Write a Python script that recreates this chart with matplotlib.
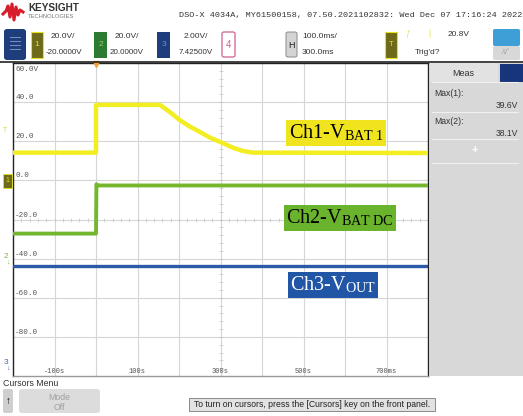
import numpy as np
import matplotlib
matplotlib.use("Agg")
import matplotlib.pyplot as plt
from matplotlib.patches import Rectangle, FancyBboxPatch
from matplotlib.lines import Line2D

plt.rcParams["mathtext.fontset"] = "stix"

W, H = 523, 416

# channel settings (V/div, offset V); screen y axis uses ch1 units
ch_scale = {1: 20.0, 2: 20.0, 3: 2.0}
ch_offset = {1: -20.0, 2: 20.0, 3: 7.425}

# ch1 - VBAT1 (ms, V)
ch1_t = [-200, 0, 0, 154, 178, 202, 226, 251, 275, 303, 330, 354, 378, 800]
ch1_v = [14.2, 14.2, 38.6, 38.6, 34.9, 30.8, 27.5, 24.7, 21.8, 19.3, 16.7, 15.0, 14.2, 14.0]
# ch2 - VBAT DC
ch2_t = [-200, 0, 1, 3, 800]
ch2_v = [12.8, 12.8, 38.0, 37.4, 37.4]
# ch3 - VOUT
ch3_t = [-200, 800]
ch3_v = [5.05, 5.05]

y_ticks = [60, 40, 20, 0, -20, -40, -60, -80]
y_labels = ["60.0V", "40.0", "20.0", "0.0", "-20.0", "-40.0", "-60.0", "-80.0"]
x_ticks = [-100, 100, 300, 500, 700]
x_labels = ["-100s", "100s", "300s", "500s", "700ms"]

meas_names = ["Max(1):", "Max(2):"]
meas_vals = ["39.6V", "38.1V"]


def to_screen(v, ch):
    # convert channel volts to ch1 screen units (center = -20, 20 per div)
    return [(x - ch_offset[ch]) / ch_scale[ch] * 20.0 - 20.0 for x in v]


def fx(x):
    return x / W


def fy(y):
    return 1 - y / H


def box(x0, y0, x1, y1, fc, ec="none", lw=0.8, r=0.0, z=2):
    if r > 0:
        p = FancyBboxPatch((fx(x0), fy(y1)), fx(x1) - fx(x0), fy(y0) - fy(y1),
                           boxstyle=f"round,pad=0,rounding_size={r}",
                           transform=fig.transFigure, fc=fc, ec=ec, lw=lw, zorder=z)
    else:
        p = Rectangle((fx(x0), fy(y1)), fx(x1) - fx(x0), fy(y0) - fy(y1),
                      transform=fig.transFigure, fc=fc, ec=ec, lw=lw, zorder=z)
    fig.add_artist(p)


def ftext(x, y, s, **kw):
    kw.setdefault("fontsize", 6.0)
    kw.setdefault("family", "Liberation Sans")
    kw.setdefault("color", "#333333")
    kw.setdefault("va", "center")
    fig.text(fx(x), fy(y), s, **kw)


fig = plt.figure(figsize=(W / 100, H / 100), dpi=100, facecolor="white")

# ---- header ----
logo_x = [3, 6, 8, 10, 12, 14, 16, 18, 20, 23]
logo_y = [14, 11, 6, 17, 4, 20, 7, 15, 10, 12]
fig.add_artist(Line2D([fx(x) for x in logo_x], [fy(y) for y in logo_y],
                      transform=fig.transFigure, color="#d81e2c", lw=2.2))
ftext(28, 8, "KEYSIGHT", fontsize=7.2, color="#333333", weight="bold")
ftext(28, 17, "TECHNOLOGIES", fontsize=4.2, color="#777777")
ftext(522, 16, "DSO-X 4034A, MY61500158, 07.50.2021102832: Wed Dec 07 17:16:24 2022",
      fontsize=6.1, family="Liberation Mono", ha="right", color="#333333")

# channel bar
box(4, 29, 26, 60, "#1d3d7c", r=0.006)
for yy in [37, 41, 45, 49]:
    fig.add_artist(Line2D([fx(10), fx(20)], [fy(yy), fy(yy)], transform=fig.transFigure,
                          color="#8aa0c8", lw=0.6))

box(31, 32, 43, 58, "#6e6a1c", ec="#e8e020", lw=0.8)
ftext(37, 45, "1", color="#e8e020", ha="center", fontsize=6)
ftext(63, 37, "20.0V/", ha="center")
ftext(64, 52, "-20.0000V", ha="center", fontsize=5.8)

box(94, 32, 107, 58, "#2d7a33")
ftext(100.5, 45, "2", color="#9ad26a", ha="center", fontsize=6)
ftext(127, 37, "20.0V/", ha="center")
ftext(127, 52, "20.0000V", ha="center", fontsize=5.8)

box(157, 32, 170, 58, "#1d3d7c")
ftext(163.5, 45, "3", color="#6f8fd0", ha="center", fontsize=6)
ftext(196, 37, "2.00V/", ha="center")
ftext(196, 52, "7.42500V", ha="center", fontsize=5.8)

box(222, 32, 235, 57, "white", ec="#d06090", lw=0.9, r=0.004)
ftext(228.5, 45, "4", color="#d06090", ha="center", fontsize=7)

box(286, 32, 297, 57, "#d4d4d4", ec="#8a8a8a", lw=0.7, r=0.004)
ftext(291.5, 45, "H", ha="center", fontsize=6.5, color="#222222")
ftext(302, 36, "100.0ms/")
ftext(302, 52, "300.0ms")

box(385, 32, 397, 58, "#6e6a1c", ec="#e8e020", lw=0.8)
ftext(391, 45, "T", color="#e8e020", ha="center", fontsize=5.5)
ftext(408, 34, "ƒ", color="#ece86a", ha="center", fontsize=6.5)
ftext(429, 34, "|", color="#ece86a", ha="center", fontsize=6.5)
ftext(448, 34, "20.8V")
ftext(428, 52, "Trig'd?", ha="center")

box(493, 29, 520, 46, "#3d9fd6", r=0.004)
box(493, 46, 520, 60, "#d8d8d8", r=0.004)
ftext(506, 52, "⁄\\/˚", ha="center", fontsize=5, color="#999999")

fig.add_artist(Line2D([0, 1], [fy(62), fy(62)], transform=fig.transFigure,
                      color="#222222", lw=1.2))

# ---- scope grid ----
ax = fig.add_axes([fx(13), fy(376), fx(428) - fx(13), fy(63) - fy(376)])
ax.set_xlim(-200, 800)
ax.set_ylim(-100, 60)
ax.set_xticks([])
ax.set_yticks([])
for s in ax.spines.values():
    s.set_color("#222222")
    s.set_linewidth(1.0)
ax.spines["bottom"].set_color("#999999")

for xv in range(-100, 800, 100):
    ax.axvline(xv, color="#d6d6d6", lw=0.8, zorder=1)
for yv in range(-80, 60, 20):
    ax.axhline(yv, color="#d6d6d6", lw=0.8, zorder=1)
mx = np.arange(-200, 801, 20)
my = np.arange(-100, 61, 4)
ax.plot(mx, np.full(len(mx), -20.0), ls="", marker="|", ms=2.2, mew=0.5, color="#c4c4c4", zorder=1)
ax.plot(np.full(len(my), 300.0), my, ls="", marker="_", ms=2.2, mew=0.5, color="#c4c4c4", zorder=1)

for yv, lab in zip(y_ticks, y_labels):
    if yv == 60:
        ax.text(-195, yv - 1.5, lab, fontsize=5.5, family="Liberation Mono", color="#555555", va="top")
    else:
        ax.text(-195, yv + 0.5, lab, fontsize=5.5, family="Liberation Mono", color="#555555", va="bottom")
for xv, lab in zip(x_ticks, x_labels):
    ax.text(xv, -99.3, lab, fontsize=5, family="Liberation Mono", color="#555555",
            ha="center", va="bottom")

# traces
ax.plot(ch3_t, to_screen(ch3_v, 3), color="#2b5aa8", lw=2.4, zorder=3)
ax.plot(ch2_t, to_screen(ch2_v, 2), color="#74b72e", lw=2.8, zorder=4)
ax.plot(ch1_t, to_screen(ch1_v, 1), color="#f2ee22", lw=3.2, zorder=5)

# trigger marker
ax.plot([0], [59.5], marker="v", ms=4, color="#f0a030", clip_on=False, zorder=6)

# labels
lab_kw = dict(fontsize=14.5, family="Liberation Serif", va="center", ha="left", zorder=7)
ax.text(464, 24.2, r"Ch1-V$_{\mathregular{BAT\ 1}}$", color="black",
        bbox=dict(boxstyle="square,pad=0.12", fc="#efe41e", ec="none"), **lab_kw)
ax.text(459, -19.2, r"Ch2-V$_{\mathregular{BAT\ DC}}$", color="black",
        bbox=dict(boxstyle="square,pad=0.12", fc="#6ab42d", ec="none"), **lab_kw)
ax.text(468, -53.5, r"Ch3-V$_{\mathregular{OUT}}$", color="white",
        bbox=dict(boxstyle="square,pad=0.12", fc="#2155a5", ec="none"), **lab_kw)

# left side ground markers
ftext(5, 130, "T", color="#d8d040", fontsize=5, ha="center")
box(3, 174, 12, 188, "#6e6a1c", ec="#e8e020", lw=0.6)
ftext(7.5, 181, "1", color="#e8e020", fontsize=5, ha="center")
ftext(6, 256, "2", color="#7ab84a", fontsize=6, ha="center")
ftext(8, 262, "↓", color="#7ab84a", fontsize=5, ha="center")
ftext(6, 362, "3", color="#3a66b0", fontsize=6, ha="center")
ftext(8, 368, "↓", color="#3a66b0", fontsize=5, ha="center")

# ---- measurement panel ----
box(430, 63, 523, 376, "#d8d8d8")
box(430, 63, 498, 82, "#e2e2e2")
box(500, 64, 523, 82, "#17357a")
ftext(463, 73, "Meas", ha="center", fontsize=6.5)
y_name = [93, 121]
for i, (nm, val) in enumerate(zip(meas_names, meas_vals)):
    ftext(434, y_name[i], nm, fontsize=6.2)
    ftext(518, y_name[i] + 12, val, fontsize=6.2, ha="right")
for yl in [82, 112, 139, 163]:
    fig.add_artist(Line2D([fx(432), fx(518)], [fy(yl), fy(yl)], transform=fig.transFigure,
                          color="#f0f0f0", lw=0.8))
ftext(475, 150, "+", ha="center", fontsize=8, color="white", weight="bold")

# ---- bottom menu ----
ftext(3, 383, "Cursors Menu", fontsize=6.3)
box(3, 389, 13, 413, "#cfcfcf", r=0.004)
ftext(8, 401, "↑", ha="center", fontsize=7, weight="bold", color="black")
box(19, 389, 100, 413, "#dcdcdc", r=0.006)
ftext(59, 397, "Mode", ha="center", fontsize=6.3, color="#a0a0a0")
ftext(59, 407, "Off", ha="center", fontsize=6.3, color="#a0a0a0")
box(189, 398, 435, 411, "#e2e2e2", ec="#8a8a8a", lw=0.7)
ftext(312, 404.5, "To turn on cursors, press the [Cursors] key on the front panel.",
      ha="center", fontsize=6.2, color="#222222")

fig.savefig("out.png", dpi=100, facecolor="white")
